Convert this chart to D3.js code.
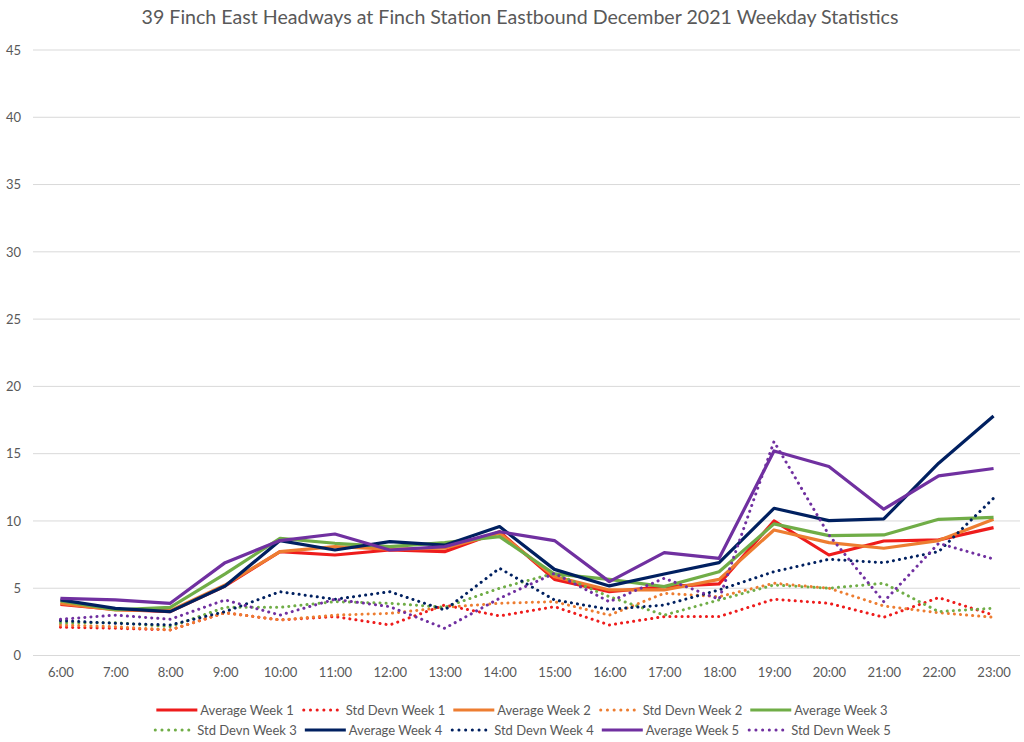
<!DOCTYPE html>
<html>
<head>
<meta charset="utf-8">
<script src="https://d3js.org/d3.v7.min.js"></script>
<style>
  body { margin: 0; background: #fff; }
  svg { display: block; font-family: "Lato", sans-serif; }
</style>
</head>
<body>
<svg id="chart" width="1024" height="742"></svg>
<script>
// Chart values
const hours = ["6:00", "7:00", "8:00", "9:00", "10:00", "11:00", "12:00", "13:00", "14:00",
  "15:00", "16:00", "17:00", "18:00", "19:00", "20:00", "21:00", "22:00", "23:00"];

const avgWeek1 = [3.8, 3.43, 3.26, 5.17, 7.72, 7.47, 7.84, 7.72, 9.2, 5.66, 4.74, 5.12, 5.32, 10.0, 7.47, 8.51, 8.59, 9.5];
const sdWeek1  = [2.1, 2.02, 1.9, 3.18, 2.64, 2.89, 2.27, 3.75, 2.94, 3.63, 2.27, 2.89, 2.89, 4.18, 3.88, 2.84, 4.3, 3.0];
const avgWeek2 = [3.88, 3.38, 3.33, 5.24, 7.72, 8.09, 7.9, 7.97, 9.08, 5.86, 4.87, 4.87, 5.66, 9.33, 8.39, 7.97, 8.54, 10.12];
const sdWeek2  = [2.27, 2.14, 1.9, 3.18, 2.64, 3.0, 3.13, 3.58, 3.88, 4.0, 3.0, 4.62, 4.37, 5.37, 5.0, 3.68, 3.18, 2.84];
const avgWeek3 = [4.05, 3.4, 3.58, 6.06, 8.71, 8.34, 8.09, 8.39, 8.83, 6.06, 5.66, 5.12, 6.23, 9.78, 8.91, 8.96, 10.12, 10.27];
const sdWeek3  = [2.44, 2.44, 2.14, 3.58, 3.58, 4.0, 3.88, 3.58, 5.0, 6.11, 4.37, 3.0, 4.13, 5.24, 5.0, 5.37, 3.26, 3.51];
const avgWeek4 = [4.13, 3.5, 3.26, 5.17, 8.54, 7.84, 8.46, 8.2, 9.58, 6.4, 5.17, 6.06, 6.9, 10.94, 10.02, 10.15, 14.29, 17.8];
const sdWeek4  = [2.59, 2.39, 2.27, 3.26, 4.74, 4.18, 4.74, 3.38, 6.48, 4.13, 3.43, 3.75, 4.87, 6.23, 7.15, 6.9, 7.72, 11.69];
const avgWeek5 = [4.25, 4.13, 3.88, 6.9, 8.54, 9.03, 7.84, 8.09, 9.2, 8.54, 5.49, 7.65, 7.22, 15.2, 14.04, 10.87, 13.35, 13.9];
const sdWeek5  = [2.69, 3.0, 2.69, 4.13, 3.0, 4.18, 3.63, 2.02, 4.25, 6.11, 4.0, 5.74, 4.18, 15.9, 8.96, 4.0, 8.34, 7.17];

const yTicks = [0, 5, 10, 15, 20, 25, 30, 35, 40, 45];

const series = [
  { name: "Average Week 1", values: avgWeek1, color: "#ee1c1c", dotted: false },
  { name: "Std Devn Week 1", values: sdWeek1, color: "#ee1c1c", dotted: true },
  { name: "Average Week 2", values: avgWeek2, color: "#ed7d31", dotted: false },
  { name: "Std Devn Week 2", values: sdWeek2, color: "#ed7d31", dotted: true },
  { name: "Average Week 3", values: avgWeek3, color: "#70ad47", dotted: false },
  { name: "Std Devn Week 3", values: sdWeek3, color: "#70ad47", dotted: true },
  { name: "Average Week 4", values: avgWeek4, color: "#002060", dotted: false },
  { name: "Std Devn Week 4", values: sdWeek4, color: "#002060", dotted: true },
  { name: "Average Week 5", values: avgWeek5, color: "#7030a0", dotted: false },
  { name: "Std Devn Week 5", values: sdWeek5, color: "#7030a0", dotted: true }
];

const svg = d3.select("#chart");
const margin = { left: 33, right: 3 };
const width = 1024;

const x = d3.scalePoint()
  .domain(hours)
  .range([margin.left, width - margin.right])
  .padding(0.5);

const y = d3.scaleLinear()
  .domain([0, 45])
  .range([655.5, 50]);

// title
svg.append("text")
  .attr("x", 520)
  .attr("y", 24)
  .attr("text-anchor", "middle")
  .attr("fill", "#595959")
  .style("font-size", "19.6px")
  .text("39 Finch East Headways at Finch Station Eastbound December 2021 Weekday Statistics");

// gridlines
svg.append("g")
  .selectAll("line")
  .data(yTicks)
  .join("line")
  .attr("x1", 33)
  .attr("x2", 1020)
  .attr("y1", d => y(d))
  .attr("y2", d => y(d))
  .attr("stroke", "#d9d9d9")
  .attr("stroke-width", 1);

// y axis labels
const yAxis = d3.axisLeft(y).tickValues(yTicks).tickSize(0).tickPadding(0);
svg.append("g")
  .attr("transform", "translate(21,0)")
  .call(yAxis)
  .call(g => g.select(".domain").remove())
  .call(g => g.selectAll("text")
    .attr("fill", "#595959")
    .style("font-size", "13px")
    .style("font-family", "Lato, sans-serif"));

// x axis labels
const xAxis = d3.axisBottom(x).tickSize(0).tickPadding(0);
svg.append("g")
  .attr("transform", "translate(0,668)")
  .call(xAxis)
  .call(g => g.select(".domain").remove())
  .call(g => g.selectAll("text")
    .attr("fill", "#595959")
    .style("font-size", "13px")
    .style("font-family", "Lato, sans-serif"));

// lines
const line = d3.line()
  .x((d, i) => x(hours[i]))
  .y(d => y(d));

svg.append("g")
  .selectAll("path")
  .data(series)
  .join("path")
  .attr("d", d => line(d.values))
  .attr("fill", "none")
  .attr("stroke", d => d.color)
  .attr("stroke-width", d => d.dotted ? 3 : 3.2)
  .attr("stroke-linejoin", "round")
  .attr("stroke-linecap", d => d.dotted ? "round" : "butt")
  .attr("stroke-dasharray", d => d.dotted ? "0.1 6" : null);

// legend, two rows of five, centred
const legendRows = [series.slice(0, 5), series.slice(5)];
const swatch = 41;
legendRows.forEach((row, r) => {
  const g = svg.append("g");
  let cx = 0;
  row.forEach(s => {
    const item = g.append("g").attr("transform", `translate(${cx},0)`);
    item.append("line")
      .attr("x1", s.dotted ? 2 : 0).attr("x2", s.dotted ? swatch - 2 : swatch)
      .attr("y1", 0).attr("y2", 0)
      .attr("stroke", s.color)
      .attr("stroke-width", s.dotted ? 3 : 3.2)
      .attr("stroke-linecap", s.dotted ? "round" : "butt")
      .attr("stroke-dasharray", s.dotted ? "0.1 6.6" : null);
    const t = item.append("text")
      .attr("x", swatch + 3)
      .attr("y", 4.5)
      .attr("fill", "#595959")
      .style("font-size", "13px")
      .text(s.name);
    cx += swatch + 3 + t.node().getComputedTextLength() + 8;
  });
  const total = cx - 8;
  g.attr("transform", `translate(${522 - total / 2},${710 + r * 20})`);
});
</script>
</body>
</html>
